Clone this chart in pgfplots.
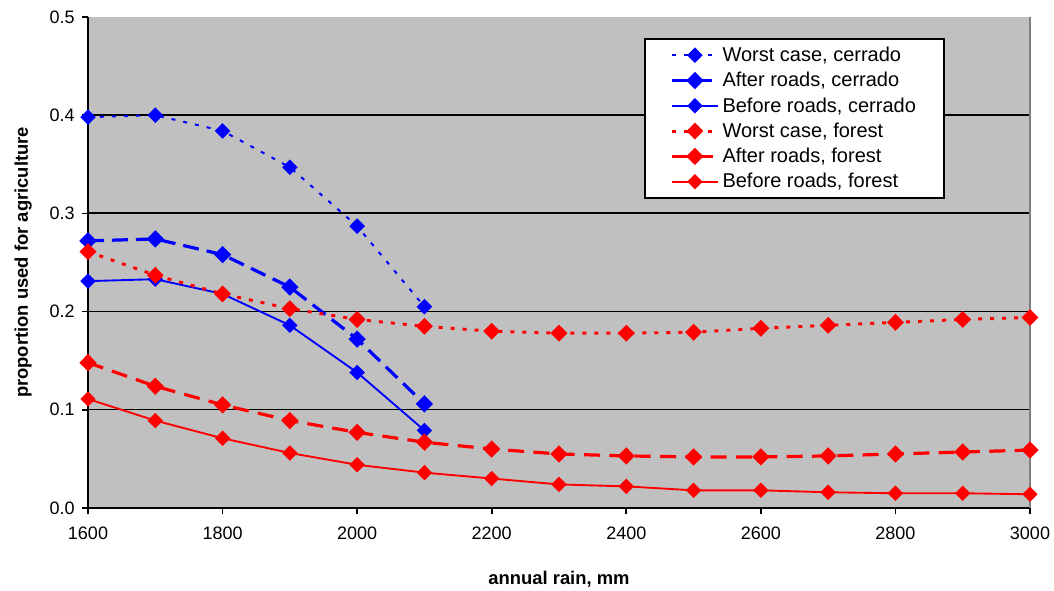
\documentclass[border=0pt]{standalone}
\usepackage{fontspec}
\setmainfont{Liberation Sans}
\usepackage{pgfplots}
\pgfplotsset{compat=1.18}
\definecolor{plotbg}{HTML}{C0C0C0}
\definecolor{rimgray}{HTML}{808080}
\definecolor{xlred}{HTML}{FF0000}
\definecolor{xlblue}{HTML}{0000FF}
\pgfplotsset{
  dmark/.style = {color=#1, draw=#1, mark options={solid, fill=#1, draw=#1, xscale=1.33}},
}
\begin{document}
\begin{tikzpicture}
  \begin{axis}
   [
     scale only axis,
     width        = 706.5pt,
     height       = 368.25pt,
     axis x line  = bottom,
     axis y line  = left,
     axis line style = {black, line width=1.5pt, -},
     axis background/.style = {fill=plotbg},
     xmin         = 1600,
     xmax         = 3000,
     ymin         = 0,
     ymax         = 0.5,
     xtick        = {1600,1800,...,3000},
     ytick        = {0,0.1,...,0.5},
     tick align   = outside,
     major tick length = 4.5pt,
     tick style   = {black, line width=1.2pt},
     extra y ticks = {0.1,0.2,0.3,0.4},
     extra y tick labels = {},
     extra y tick style = {ymajorgrids=true, major tick length=0pt},
     major grid style = {black, line width=0.9pt},
     /pgf/number format/assume math mode=true,
     /pgf/number format/1000 sep={},
     yticklabel style = {/pgf/number format/fixed, /pgf/number format/fixed zerofill,
                         /pgf/number format/precision=1, xshift=-2pt},
     xticklabel style = {yshift=-6pt},
     ticklabel style = {font=\fontsize{13.5pt}{16pt}\selectfont},
     xlabel       = {\textbf{annual rain, mm}},
     ylabel       = {\textbf{proportion used for agriculture}},
     label style  = {font=\fontsize{13.8pt}{16pt}\selectfont},
     xlabel style = {yshift=-17pt},
     ylabel style = {yshift=2pt},
     clip         = false,
     legend cell align = left,
     legend style = {at={(0.590,0.957)}, anchor=north west, fill=white,
                     draw=black, line width=1.3pt,
                     font=\fontsize{15pt}{18pt}\selectfont,
                     row sep=2.6pt, inner xsep=19pt, inner ysep=4pt},
     legend image code/.code = {
       \draw[mark repeat=2, mark phase=2, #1]
         plot coordinates {(0pt,0pt) (17.5pt,0pt) (35pt,0pt)};},
     every axis plot/.append style = {mark=diamond*, mark size=4.8pt},
   ]
   % thicker grid lines at 0.3 and 0.4, as in the picture
   \draw[black, line width=1.6pt] (axis cs:1600,0.3) -- (axis cs:3000,0.3);
   \draw[black, line width=1.6pt] (axis cs:1600,0.4) -- (axis cs:3000,0.4);
   \draw[rimgray, line width=1.2pt] (rel axis cs:1,0) -- (rel axis cs:1,1);

   % worst case, cerrado
   \addplot[line width=1.5pt, dash pattern=on 3pt off 6pt,
            dmark=xlblue] coordinates {
    (1600,0.398) (1700,0.400) (1800,0.384) (1900,0.347) (2000,0.287) (2100,0.205)
   };
   \addlegendentry{Worst case, cerrado}
   % after roads, cerrado
   \addplot[line width=2.4pt, dash pattern=on 12pt off 6pt,
            dmark=xlblue] coordinates {
    (1600,0.272) (1700,0.274) (1800,0.258) (1900,0.225) (2000,0.172) (2100,0.106)
   };
   \addlegendentry{After roads, cerrado}
   % before roads, cerrado
   \addplot[line width=1.4pt, dmark=xlblue] coordinates {
    (1600,0.231) (1700,0.233) (1800,0.218) (1900,0.186) (2000,0.138) (2100,0.079)
   };
   \addlegendentry{Before roads, cerrado}
   % worst case, forest
   \addplot[line width=2.2pt, dash pattern=on 3pt off 6pt,
            dmark=xlred] coordinates {
    (1600,0.261) (1700,0.237) (1800,0.218) (1900,0.203) (2000,0.192)
    (2100,0.185) (2200,0.180) (2300,0.178) (2400,0.178) (2500,0.179)
    (2600,0.183) (2700,0.186) (2800,0.189) (2900,0.192) (3000,0.194)
   };
   \addlegendentry{Worst case, forest}
   % after roads, forest
   \addplot[line width=2.4pt, dash pattern=on 12pt off 7pt,
            dmark=xlred] coordinates {
    (1600,0.148) (1700,0.124) (1800,0.105) (1900,0.089) (2000,0.077)
    (2100,0.067) (2200,0.060) (2300,0.055) (2400,0.053) (2500,0.052)
    (2600,0.052) (2700,0.053) (2800,0.055) (2900,0.057) (3000,0.059)
   };
   \addlegendentry{After roads, forest}
   % before roads, forest
   \addplot[line width=1.4pt, dmark=xlred] coordinates {
    (1600,0.111) (1700,0.089) (1800,0.071) (1900,0.056) (2000,0.044)
    (2100,0.036) (2200,0.030) (2300,0.024) (2400,0.022) (2500,0.018)
    (2600,0.018) (2700,0.016) (2800,0.015) (2900,0.015) (3000,0.014)
   };
   \addlegendentry{Before roads, forest}

   \coordinate (sw) at (rel axis cs:0,0);
  \end{axis}
  \pgfresetboundingbox
  \path (sw) ++(-66pt,-62.25pt) rectangle ++(790.5pt,443.25pt);
\end{tikzpicture}
\end{document}
